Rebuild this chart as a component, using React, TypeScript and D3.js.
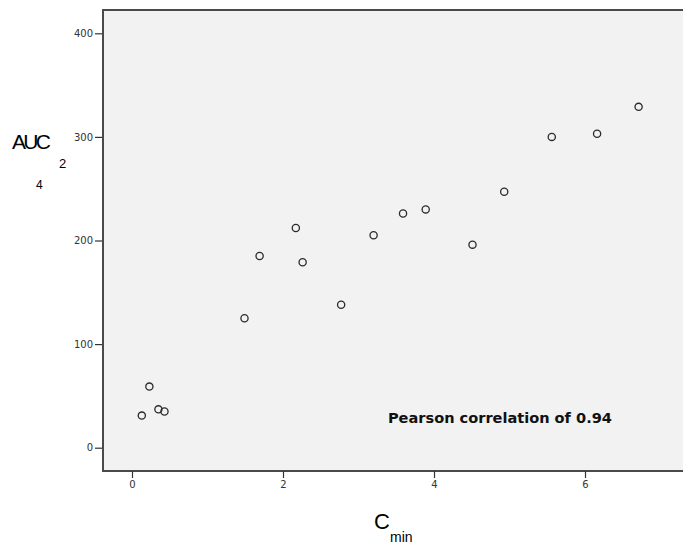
import React, { useEffect, useRef } from 'react';
import * as d3 from 'd3';

// Cmin (x) vs AUC24 (y)
const cmin = [0.13, 0.23, 0.35, 0.43, 1.49, 1.69, 2.17, 2.26, 2.77, 3.2, 3.59, 3.89, 4.51, 4.93, 5.56, 6.16, 6.71];
const auc = [31, 59, 37, 35, 125, 185, 212, 179, 138, 205, 226, 230, 196, 247, 300, 303, 329];

const xTicks = [0, 2, 4, 6];
const yTicks = [0, 100, 200, 300, 400];
const note = 'Pearson correlation of 0.94';

const App = () => {
  const ref = useRef<SVGSVGElement>(null);

  useEffect(() => {
    const svg = d3.select(ref.current);
    svg.selectAll('*').remove();

    const x = d3.scaleLinear().domain([0, 6]).range([132, 585]);
    const y = d3.scaleLinear().domain([0, 400]).range([447.7, 33.3]);

    const left = 103;
    const top = 10;
    const bottom = 471;
    const right = 690;

    // plot background + frame
    svg.append('rect')
      .attr('x', left).attr('y', top)
      .attr('width', right - left).attr('height', bottom - top)
      .attr('fill', '#f2f2f2');
    const frame = svg.append('g').attr('stroke', '#4a4a4a').attr('stroke-width', 2);
    frame.append('line').attr('x1', left).attr('x2', right).attr('y1', top).attr('y2', top);
    frame.append('line').attr('x1', left).attr('x2', right).attr('y1', bottom).attr('y2', bottom);
    frame.append('line').attr('x1', left).attr('x2', left).attr('y1', top - 1).attr('y2', bottom + 1);

    // y axis
    const yAxis = svg.append('g')
      .attr('transform', `translate(${left - 1},0)`)
      .call(d3.axisLeft(y).tickValues(yTicks).tickSize(7).tickPadding(2).tickFormat(d3.format('d')));
    yAxis.select('.domain').remove();
    yAxis.selectAll('line').attr('stroke', '#333').attr('stroke-width', 1.2);
    yAxis.selectAll('text')
      .attr('fill', '#333')
      .attr('font-family', 'DejaVu Sans, sans-serif')
      .attr('font-size', 10);

    // x axis
    const xAxis = svg.append('g')
      .attr('transform', `translate(0,${bottom})`)
      .call(d3.axisBottom(x).tickValues(xTicks).tickSize(7).tickPadding(3).tickFormat(d3.format('d')));
    xAxis.select('.domain').remove();
    xAxis.selectAll('line').attr('stroke', '#333').attr('stroke-width', 1.2);
    xAxis.selectAll('text')
      .attr('fill', '#333')
      .attr('font-family', 'DejaVu Sans, sans-serif')
      .attr('font-size', 10);

    // points
    svg.append('g')
      .selectAll('circle')
      .data(cmin.map((c, i) => [c, auc[i]]))
      .enter()
      .append('circle')
      .attr('cx', (d) => x(d[0]))
      .attr('cy', (d) => y(d[1]))
      .attr('r', 3.6)
      .attr('fill', 'none')
      .attr('stroke', '#2b2b2b')
      .attr('stroke-width', 1.3);

    // correlation note
    svg.append('text')
      .attr('x', x(3.39))
      .attr('y', y(24))
      .attr('font-family', 'DejaVu Sans, sans-serif')
      .attr('font-weight', 'bold')
      .attr('font-size', 14)
      .attr('textLength', 224)
      .attr('lengthAdjust', 'spacingAndGlyphs')
      .attr('fill', '#111')
      .text(note);

    // y title: AUC with subscripts
    const yt = svg.append('g').attr('font-family', 'Liberation Sans, Arial, sans-serif').attr('fill', '#000');
    yt.append('text').attr('x', 12).attr('y', 149).attr('font-size', 21).attr('textLength', 39).text('AUC');
    yt.append('text').attr('x', 59).attr('y', 168).attr('font-size', 13).text('2');
    yt.append('text').attr('x', 36).attr('y', 189).attr('font-size', 12).text('4');

    // x title: C min
    const xt = svg.append('g').attr('font-family', 'Liberation Sans, Arial, sans-serif').attr('fill', '#000');
    xt.append('text').attr('x', 374).attr('y', 529).attr('font-size', 22).text('C');
    xt.append('text').attr('x', 390).attr('y', 542).attr('font-size', 14).text('min');
  }, []);

  return (
    <svg
      ref={ref}
      width={683}
      height={544}
      style={{ position: 'absolute', left: 0, top: 0, background: '#fff' }}
    ></svg>
  );
};

export default App;
